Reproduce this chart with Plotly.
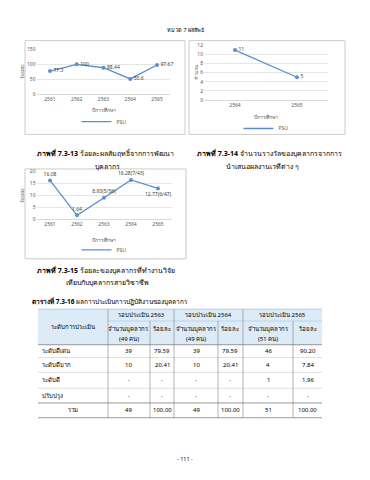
import plotly.graph_objects as go

# the page body adds an 8px margin, so the figure is drawn 8px in from the top-left
OFF = 8
W, H = 370 - OFF, 480 - OFF
def X(px): return (px - OFF) / W
def Y(py): return 1 - (py - OFF) / H

BLUE = "#5B8FCF"
FONT = "Noto Sans, DejaVu Sans, sans-serif"

# ---- data ----
years1 = ["2561", "2562", "2563", "2564", "2565"]
vals1 = [77.3, 100, 88.44, 50.6, 97.67]
labels1 = ["77.3", "100", "88.44", "50.6", "97.67"]

years2 = ["2564", "2565"]
vals2 = [11, 5]
labels2 = ["11", "5"]

years3 = ["2561", "2562", "2563", "2564", "2565"]
vals3 = [16.08, 1.64, 8.93, 16.28, 12.77]
labels3 = ["16.08", "1.64", "8.93(5/56)", "16.28(7/43)", "12.77(6/47)"]

tbl_rows = ["ระดับดีเด่น", "ระดับดีมาก", "ระดับดี", "ปรับปรุง", "รวม"]
tbl_2563_n = ["39", "10", "-", "-", "49"]
tbl_2563_p = ["79.59", "20.41", "-", "-", "100.00"]
tbl_2564_n = ["39", "10", "-", "-", "49"]
tbl_2564_p = ["79.59", "20.41", "-", "-", "100.00"]
tbl_2565_n = ["46", "4", "1", "-", "51"]
tbl_2565_p = ["90.20", "7.84", "1.96", "-", "100.00"]
rounds = ["รอบประเมิน 2563", "รอบประเมิน 2564", "รอบประเมิน 2565"]
staff = ["(49 คน)", "(49 คน)", "(51 คน)"]

fig = go.Figure()

TICKF = dict(family=FONT, size=5, color="#595959")

def add_chart(i, xs, ys, labels, positions, xdom, ydom, yrange, dtick, legname):
    xa = "x" if i == 1 else f"x{i}"
    ya = "y" if i == 1 else f"y{i}"
    fig.add_trace(go.Scatter(
        x=xs, y=ys, mode="lines+markers+text", name="PSU", showlegend=False,
        text=labels, textposition=positions,
        textfont=dict(family=FONT, size=5, color="#404040"),
        line=dict(color=BLUE, width=1.3), marker=dict(size=4, color=BLUE),
        xaxis=xa, yaxis=ya, cliponaxis=False))
    # legend entry: line only
    fig.add_trace(go.Scatter(
        x=[None], y=[None], mode="lines", name="PSU", showlegend=True,
        line=dict(color=BLUE, width=1.3), xaxis=xa, yaxis=ya, legend=legname))
    xkey = "xaxis" if i == 1 else f"xaxis{i}"
    ykey = "yaxis" if i == 1 else f"yaxis{i}"
    fig.update_layout(**{
        xkey: dict(domain=[X(xdom[0]), X(xdom[1])], anchor=ya, type="category",
                   categoryorder="array", categoryarray=xs,
                   range=[-0.5, len(xs) - 0.5],
                   showgrid=False, showline=True, linecolor="#D9D9D9", linewidth=0.8,
                   ticks="", tickfont=TICKF, fixedrange=True),
        ykey: dict(domain=[Y(ydom[1]), Y(ydom[0])], anchor=xa, range=yrange, dtick=dtick,
                   showgrid=True, gridcolor="#E6E6E6", gridwidth=0.6, zeroline=False,
                   showline=False, ticks="", tickfont=TICKF, fixedrange=True),
    })

add_chart(1, years1, vals1, labels1, ["middle right"] * 5,
          (36.6, 170.4), (47, 92), [0, 150], 50, "legend")
add_chart(2, years2, vals2, labels2, ["middle right"] * 2,
          (204, 328), (43, 98), [0, 12], 2, "legend2")
add_chart(3, years3, vals3, labels3,
          ["top center", "top center", "top center", "top center", "bottom center"],
          (36.5, 171.5), (170, 219), [0, 20], 5, "legend3")

legstyle = dict(orientation="h", xanchor="center", yanchor="middle",
                font=dict(family=FONT, size=5, color="#595959"),
                bgcolor="rgba(0,0,0,0)", itemwidth=30)
fig.update_layout(
    legend=dict(x=X(104), y=Y(120), **legstyle),
    legend2=dict(x=X(266), y=Y(127), **legstyle),
    legend3=dict(x=X(104), y=Y(250), **legstyle),
)

shapes = []
# chart borders
for (x0, y0, x1, y1) in [(25, 38, 185, 133), (189, 38, 345, 133), (25, 168, 186, 259)]:
    shapes.append(dict(type="rect", xref="paper", yref="paper", x0=X(x0), x1=X(x1),
                       y0=Y(y1), y1=Y(y0), line=dict(color="#BFBFBF", width=0.8)))

ann = []
def txt(x, y, s, size=6, bold=False, anchor="center", color="#000000", angle=0):
    if bold:
        s = f"<b>{s}</b>"
    ann.append(dict(x=X(x), y=Y(y), xref="paper", yref="paper", text=s, showarrow=False,
                    xanchor=anchor, yanchor="middle", textangle=angle,
                    font=dict(family=FONT, size=size, color=color)))

txt(185, 27, "หมวด 7 ผลลัพธ์", size=5.5)
# axis titles
txt(104, 108, "ปีการศึกษา", size=5, color="#595959")
txt(266, 115, "ปีการศึกษา", size=5, color="#595959")
txt(104, 240, "ปีการศึกษา", size=5, color="#595959")
txt(22, 70, "ร้อยละ", size=5, color="#595959", angle=-90)
txt(196, 70, "จำนวน", size=5, color="#595959", angle=-90)
txt(22, 195, "ร้อยละ", size=5, color="#595959", angle=-90)

# captions
txt(35, 152, "<b>ภาพที่ 7.3-13</b> ร้อยละผลสัมฤทธิ์จากการพัฒนา", size=7, anchor="left")
txt(107, 165, "บุคลากร", size=7)
txt(195, 152, "<b>ภาพที่ 7.3-14</b> จำนวนรางวัลของบุคลากรจากการ", size=7, anchor="left")
txt(262, 165, "นำเสนอผลงานเวทีต่าง ๆ", size=7)
txt(35, 270, "<b>ภาพที่ 7.3-15</b> ร้อยละของบุคลากรที่ทำงานวิจัย", size=7, anchor="left")
txt(107, 283, "เทียบกับบุคลากรสายวิชาชีพ", size=7)
txt(30, 302, "<b>ตารางที่ 7.3-16</b> ผลการประเมินการปฏิบัติงานของบุคลากร", size=6.5, anchor="left")
txt(185, 462, "- 111 -", size=5.5)

# ---- table ----
cols = [38, 108, 150, 174, 218, 243, 293, 322]
rows = [310, 322, 346, 359, 374, 390, 405, 420]
shapes.append(dict(type="rect", xref="paper", yref="paper", x0=X(cols[0]), x1=X(cols[-1]),
                   y0=Y(rows[2]), y1=Y(rows[0]), fillcolor="#DDEBF7", line=dict(width=0),
                   layer="below"))
def hline(y, x0, x1, w=0.6, c="#8C8C8C"):
    shapes.append(dict(type="line", xref="paper", yref="paper", x0=X(x0), x1=X(x1),
                       y0=Y(y), y1=Y(y), line=dict(color=c, width=w)))
def vline(x, y0, y1, w=0.6, c="#8C8C8C"):
    shapes.append(dict(type="line", xref="paper", yref="paper", x0=X(x), x1=X(x),
                       y0=Y(y0), y1=Y(y1), line=dict(color=c, width=w)))
hline(rows[0], cols[0], cols[-1], w=0.8, c="#9DC3E6")
hline(rows[1], cols[1], cols[-1], c="#9DC3E6")
for r in rows[2:]:
    strong = r in (rows[2], rows[-1], rows[-2])
    hline(r, cols[0], cols[-1], w=0.8 if strong else 0.5,
          c="#7F7F7F" if strong else "#BFBFBF")
for c in cols[1:-1]:
    top = rows[1] if c in (cols[2], cols[4], cols[6]) else rows[0]
    vline(c, top, rows[-1], w=0.6, c="#7F7F7F")

txt((cols[0] + cols[1]) / 2, (rows[0] + rows[2]) / 2, "ระดับการประเมิน", size=6)
for k in range(3):
    c0, c1, c2 = cols[1 + 2 * k], cols[2 + 2 * k], cols[3 + 2 * k]
    txt((c0 + c2) / 2, (rows[0] + rows[1]) / 2, rounds[k], size=6)
    txt((c0 + c1) / 2, 330, "จำนวนบุคลากร", size=6)
    txt((c0 + c1) / 2, 340, staff[k], size=6)
    txt((c1 + c2) / 2, 330, "ร้อยละ", size=6)

cols_data = [tbl_2563_n, tbl_2563_p, tbl_2564_n, tbl_2564_p, tbl_2565_n, tbl_2565_p]
for r, name in enumerate(tbl_rows):
    yc = (rows[2 + r] + rows[3 + r]) / 2
    if r == len(tbl_rows) - 1:
        txt((cols[0] + cols[1]) / 2, yc, name, size=6)
    else:
        txt(cols[0] + 2, yc, name, size=6, anchor="left")
    for j, col in enumerate(cols_data):
        txt((cols[1 + j] + cols[2 + j]) / 2, yc, col[r], size=6)

fig.update_layout(width=W, height=H, autosize=False,
                  margin=dict(l=0, r=0, t=0, b=0),
                  paper_bgcolor="white", plot_bgcolor="white",
                  shapes=shapes, annotations=ann, showlegend=True,
                  font=dict(family=FONT))

fig.write_html("out.html", config={"displayModeBar": False})
